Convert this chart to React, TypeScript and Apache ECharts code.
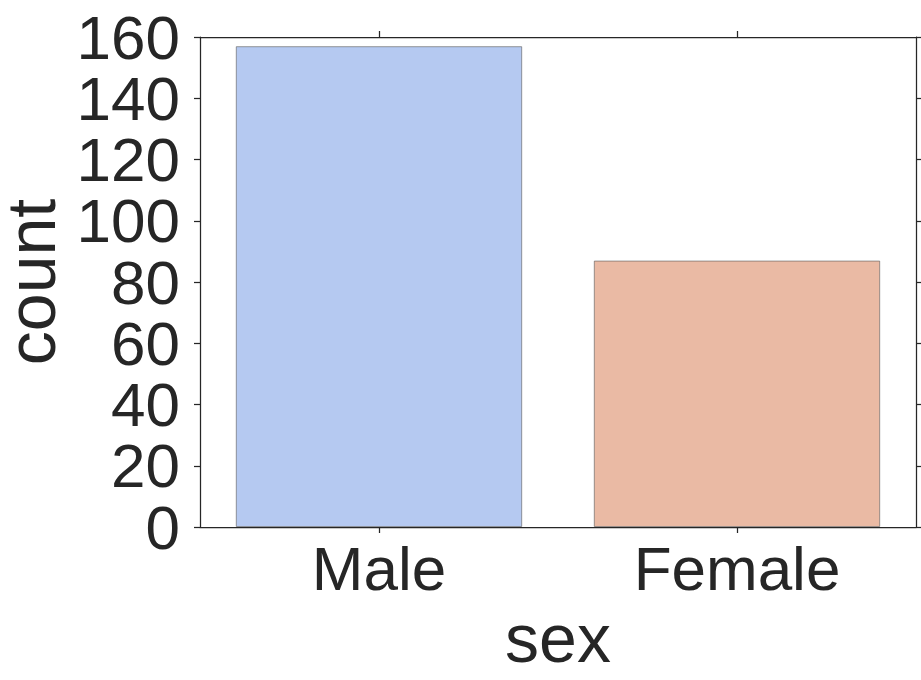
import React, { useEffect, useRef } from "react";
import * as echarts from "echarts";

const categories = ["Male", "Female"];
const counts = [157, 87];
const barColors = ["#b5c9f1", "#eabaa4"];
const yTicks = { min: 0, max: 160, interval: 20 };

const FONT = "'Liberation Sans', Arial, Helvetica, sans-serif";
const INK = "#262626";

export default function App() {
  const ref = useRef<HTMLDivElement>(null);
  useEffect(() => {
    if (!ref.current) return;
    const chart = echarts.init(ref.current, null, { renderer: "svg" });
    const axisLine = { show: true, onZero: false, lineStyle: { color: INK, width: 1.25 } };
    const axisTick = { show: true, inside: false, length: 6, lineStyle: { color: INK, width: 1.25 } };
    const yLabel = (keepRem: number) => ({
      color: INK,
      fontSize: 62,
      lineHeight: 56,
      fontFamily: FONT,
      margin: 20,
      showMinLabel: true,
      showMaxLabel: true,
      hideOverlap: false,
      formatter: (v: number) => (v % (yTicks.interval * 2) === keepRem ? String(v) : ""),
    });
    chart.setOption({
      animation: false,
      backgroundColor: "#ffffff",
      grid: { left: 200, top: 37, right: 5, bottom: 153, containLabel: false, outerBoundsMode: "none" },
      xAxis: [
        {
          type: "category",
          data: categories,
          position: "bottom",
          axisLine,
          axisTick: { ...axisTick, alignWithLabel: true },
          axisLabel: { color: INK, fontSize: 62, fontFamily: FONT, margin: 10 },
          splitLine: { show: false },
          name: "sex",
          nameLocation: "middle",
          nameGap: 74,
          nameTextStyle: { color: INK, fontSize: 68, fontFamily: FONT },
        },
        {
          type: "category",
          data: categories,
          position: "top",
          axisLine,
          axisTick: { ...axisTick, alignWithLabel: true },
          axisLabel: { show: false },
          splitLine: { show: false },
        },
      ],
      yAxis: [
        {
          type: "value",
          min: yTicks.min,
          max: yTicks.max,
          interval: yTicks.interval,
          position: "left",
          axisLine,
          axisTick,
          axisLabel: yLabel(0),
          splitLine: { show: false },
          name: "count",
          nameLocation: "middle",
          nameGap: 135,
          nameRotate: 90,
          nameTextStyle: { color: INK, fontSize: 68, fontFamily: FONT },
        },
        {
          type: "value",
          min: yTicks.min,
          max: yTicks.max,
          interval: yTicks.interval,
          position: "right",
          axisLine,
          axisTick,
          axisLabel: { show: false },
          splitLine: { show: false },
        },
        {
          type: "value",
          min: yTicks.min,
          max: yTicks.max,
          interval: yTicks.interval,
          position: "left",
          offset: 0,
          axisLine: { show: false, onZero: false },
          axisTick: { show: false },
          axisLabel: yLabel(yTicks.interval),
          splitLine: { show: false },
        },
      ],
      series: [
        {
          type: "bar",
          xAxisIndex: 0,
          yAxisIndex: 0,
          barCategoryGap: "20%",
          data: counts.map((v, i) => ({
            value: v,
            itemStyle: { color: barColors[i], borderColor: "rgba(90,90,90,0.6)", borderWidth: 1 },
          })),
        },
      ],
    });
    return () => chart.dispose();
  }, []);
  return <div ref={ref} style={{ width: 921, height: 680, position: "absolute", left: 0, top: 0 }} />;
}
